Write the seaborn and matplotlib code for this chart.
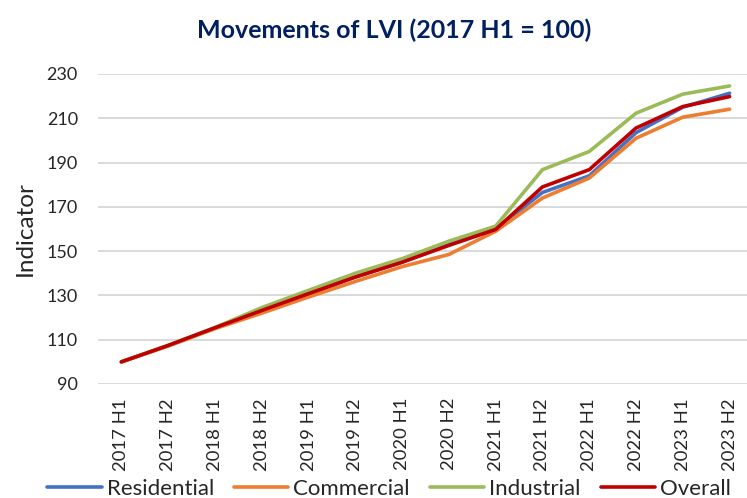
import numpy as np
import pandas as pd
import matplotlib.pyplot as plt
import seaborn as sns
from matplotlib.lines import Line2D

periods = ["2017 H1", "2017 H2", "2018 H1", "2018 H2", "2019 H1", "2019 H2", "2020 H1",
           "2020 H2", "2021 H1", "2021 H2", "2022 H1", "2022 H2", "2023 H1", "2023 H2"]
residential = [100, 107.3, 115.3, 123.0, 130.7, 138.3, 145.0, 153.0, 160.0, 176.5, 184.0, 203.5, 215.0, 221.3]
commercial = [100, 107.2, 115.0, 122.0, 129.3, 136.3, 143.0, 148.5, 159.0, 174.0, 183.0, 201.0, 210.5, 214.1]
industrial = [100, 107.5, 115.5, 124.5, 132.3, 140.0, 146.6, 154.5, 161.3, 186.8, 195.0, 212.3, 220.9, 224.6]
overall = [100, 107.4, 115.4, 123.2, 130.8, 138.3, 145.0, 152.6, 159.8, 179.0, 186.8, 205.6, 215.3, 219.8]

series = {"Residential": residential, "Commercial": commercial,
          "Industrial": industrial, "Overall": overall}
colors = {"Residential": "#4472C4", "Commercial": "#ED7D31",
          "Industrial": "#9BBB59", "Overall": "#C00000"}

df = pd.concat([pd.DataFrame({"period": periods, "x": np.arange(len(periods)),
                              "value": v, "series": k}) for k, v in series.items()])

sns.set_style("white")
plt.rcParams["font.family"] = ["Lato", "DejaVu Sans"]

fig = plt.figure(figsize=(7.47, 4.98), dpi=100)
# plot area runs a little past the right edge, as in the original export
ax = fig.add_axes([98 / 747, 1 - 384 / 498, (753 - 98) / 747, (384 - 74) / 498])

sns.lineplot(data=df, x="x", y="value", hue="series", palette=colors, linewidth=2.6,
             ax=ax, legend=False, sort=False)

ax.set_xlim(-0.5, len(periods) - 0.5)
ax.set_ylim(90, 230)
ax.set_yticks(np.arange(90, 231, 20))
ax.set_xticks(np.arange(len(periods)))
ax.set_xticklabels(periods, rotation=90, fontsize=13.3)
ax.tick_params(axis="y", labelsize=13, length=0, pad=14.5)
ax.tick_params(axis="x", length=0, pad=10)
ax.yaxis.grid(True, color="#D9D9D9", linewidth=1.4)
ax.set_axisbelow(True)
for s in ax.spines.values():
    s.set_visible(False)
ax.set_xlabel("")
ax.set_ylabel("Indicator", fontsize=17.5, labelpad=8)

fig.text(0.527, 0.94, "Movements of LVI (2017 H1 = 100)", ha="center", va="center",
         fontsize=18, fontweight="bold", color="#002060")

handles = [Line2D([], [], color=colors[k], linewidth=2.6) for k in series]
fig.legend(handles, list(series.keys()), loc="center", bbox_to_anchor=(0.521, 0.018),
           ncol=4, frameon=False, fontsize=16, handlelength=2.45, columnspacing=0.9,
           handletextpad=0.23, borderpad=0, borderaxespad=0)

fig.savefig("out.png", dpi=100, facecolor="white")
